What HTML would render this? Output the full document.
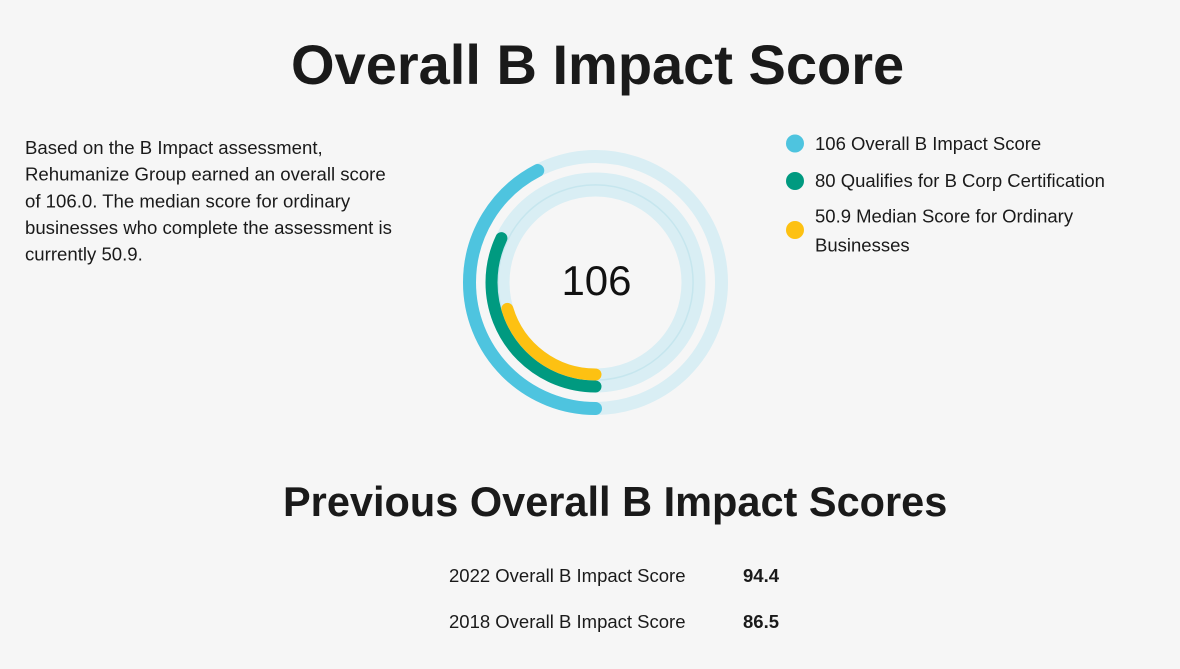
<!DOCTYPE html>
<html>
<head>
<meta charset="utf-8">
<style>
  html, body { margin:0; padding:0; background:#f6f6f6; }
  body { width:1180px; height:664px; overflow:hidden; }
  svg text { font-family: "Liberation Sans", Arial, Helvetica, sans-serif; fill:#1a1a1a; }
</style>
</head>
<body>
<svg width="1180" height="664" viewBox="0 0 1180 664" xmlns="http://www.w3.org/2000/svg">
  <rect x="0" y="0" width="1180" height="664" fill="#f6f6f6"/>

  <!-- Title -->
  <text x="291" y="84" font-size="56" font-weight="bold">Overall B Impact Score</text>

  <!-- Left paragraph -->
  <g font-size="18.6">
    <text x="25" y="154">Based on the B Impact assessment,</text>
    <text x="25" y="180.7">Rehumanize Group earned an overall score</text>
    <text x="25" y="207.3">of 106.0. The median score for ordinary</text>
    <text x="25" y="234">businesses who complete the assessment is</text>
    <text x="25" y="260.7">currently 50.9.</text>
  </g>

  <!-- Chart tracks -->
  <g fill="none">
    <circle cx="595.5" cy="282.5" r="126" stroke="#d9eef4" stroke-width="13"/>
    <circle cx="595.5" cy="282.5" r="104" stroke="#d9eef4" stroke-width="12"/>
    <circle cx="595.5" cy="282.5" r="92" stroke="#d9eef4" stroke-width="12"/>
    <circle cx="595.5" cy="282.5" r="97.6" stroke="#c6e6ee" stroke-width="1.5"/>
  </g>

  <!-- Chart arcs (start at bottom, clockwise via left), max 250 -->
  <g fill="none" stroke-linecap="round">
    <circle cx="595.5" cy="282.5" r="126" stroke="#4ec4df" stroke-width="13"
            stroke-dasharray="335.7 1000" transform="rotate(90 595.5 282.5)"/>
    <circle cx="595.5" cy="282.5" r="104" stroke="#009a80" stroke-width="12"
            stroke-dasharray="209.1 1000" transform="rotate(90 595.5 282.5)"/>
    <circle cx="595.5" cy="282.5" r="92" stroke="#fdc112" stroke-width="12"
            stroke-dasharray="117.7 1000" transform="rotate(90 595.5 282.5)"/>
  </g>

  <text x="596.5" y="295" font-size="42" text-anchor="middle" style="fill:#111">106</text>

  <!-- Legend -->
  <circle cx="795" cy="143.5" r="9" fill="#4ec4df"/>
  <circle cx="795" cy="181" r="9" fill="#009a80"/>
  <circle cx="795" cy="230" r="9" fill="#fdc112"/>
  <g font-size="18.5">
    <text x="815" y="150">106 Overall B Impact Score</text>
    <text x="815" y="187">80 Qualifies for B Corp Certification</text>
    <text x="815" y="222.5">50.9 Median Score for Ordinary</text>
    <text x="815" y="251.5">Businesses</text>
  </g>

  <!-- Previous scores -->
  <text x="283" y="516" font-size="41.5" font-weight="bold">Previous Overall B Impact Scores</text>

  <g font-size="18.5">
    <text x="449" y="582">2022 Overall B Impact Score</text>
    <text x="743" y="582" font-weight="bold">94.4</text>
    <text x="449" y="628">2018 Overall B Impact Score</text>
    <text x="743" y="628" font-weight="bold">86.5</text>
  </g>
</svg>
</body>
</html>
